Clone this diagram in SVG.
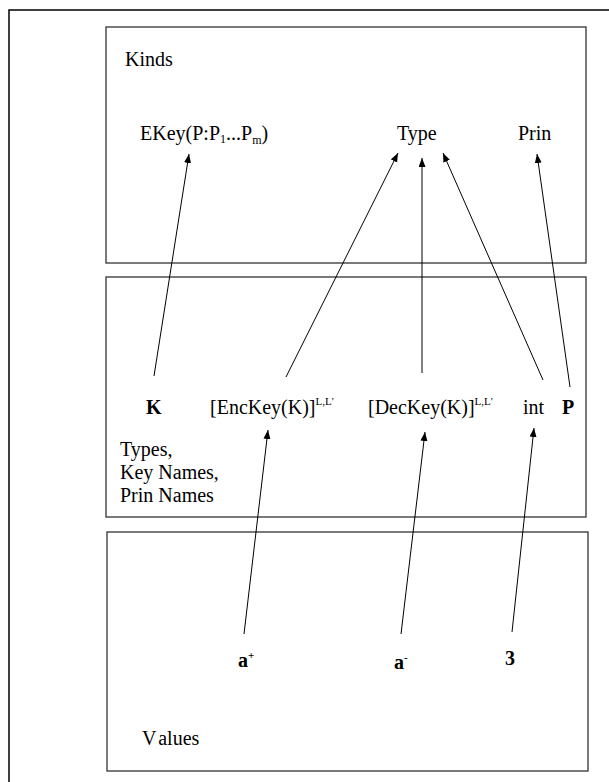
<svg xmlns="http://www.w3.org/2000/svg" width="609" height="782" viewBox="0 0 609 782">
<style>
  .box { fill: none; stroke: #333; stroke-width: 1.3; }
  .frame { fill: none; stroke: #000; stroke-width: 1.5; }
  .t { font-family: "Liberation Serif", "Times New Roman", serif; font-size: 20px; fill: #000; }
  .b { font-weight: bold; }
  .sub { font-size: 12px; }
  .sup { font-size: 11px; }
  .edge { stroke: #000; stroke-width: 1; fill: none; marker-end: url(#arr); }
</style>
<defs>
  <marker id="arr" markerUnits="userSpaceOnUse" markerWidth="10" markerHeight="8" refX="9" refY="3.5" orient="auto">
    <path d="M0,0 L9,3.5 L0,7 z" fill="#000"/>
  </marker>
</defs>
<rect width="609" height="782" fill="#fff"/>
<path class="frame" d="M9,782 L9,10 L609,10"/>

<g id="kinds">
  <rect class="box" x="106" y="27" width="480" height="236"/>
  <text class="t" x="125" y="66">Kinds</text>
</g>
<g id="ekey">
  <text class="t" x="140" y="140">EKey(P:P<tspan class="sub" dy="3">1</tspan><tspan dy="-3">...P</tspan><tspan class="sub" dy="4">m</tspan><tspan dy="-4">)</tspan></text>
</g>
<g id="type"><text class="t" x="397" y="140">Type</text></g>
<g id="prin"><text class="t" x="518" y="140">Prin</text></g>

<g id="types">
  <rect class="box" x="106" y="277" width="480" height="240"/>
  <text class="t" x="120" y="456">Types,</text>
  <text class="t" x="120" y="479">Key Names,</text>
  <text class="t" x="120" y="502">Prin Names</text>
</g>
<g id="k"><text class="t b" x="146" y="414">K</text></g>
<g id="enckey"><text class="t" x="210" y="414">[EncKey(K)]<tspan class="sup" dy="-9">L,L'</tspan></text></g>
<g id="deckey"><text class="t" x="368" y="414">[DecKey(K)]<tspan class="sup" dy="-9">L,L'</tspan></text></g>
<g id="int"><text class="t" x="523" y="414">int</text></g>
<g id="p"><text class="t b" x="562" y="414">P</text></g>

<g id="values">
  <rect class="box" x="107" y="532" width="481" height="239"/>
  <text class="t" x="142" y="745">V<tspan dx="4">alues</tspan></text>
</g>
<g id="aplus"><text class="t b" x="238" y="667">a<tspan class="sup" dy="-8">+</tspan></text></g>
<g id="aminus"><text class="t b" x="394" y="669">a<tspan class="sup" dy="-8">-</tspan></text></g>
<g id="three"><text class="t b" x="505" y="665">3</text></g>

<g id="connectors">
  <line class="edge" x1="154" y1="376" x2="189" y2="154"/>
  <line class="edge" x1="286" y1="377" x2="398" y2="153"/>
  <line class="edge" x1="422" y1="373" x2="422" y2="158"/>
  <line class="edge" x1="543" y1="380" x2="443" y2="153"/>
  <line class="edge" x1="570" y1="387" x2="537" y2="154"/>
  <line class="edge" x1="244" y1="634" x2="268" y2="430"/>
  <line class="edge" x1="401" y1="634" x2="425" y2="432"/>
  <line class="edge" x1="512" y1="632" x2="534" y2="428"/>
</g>
</svg>
